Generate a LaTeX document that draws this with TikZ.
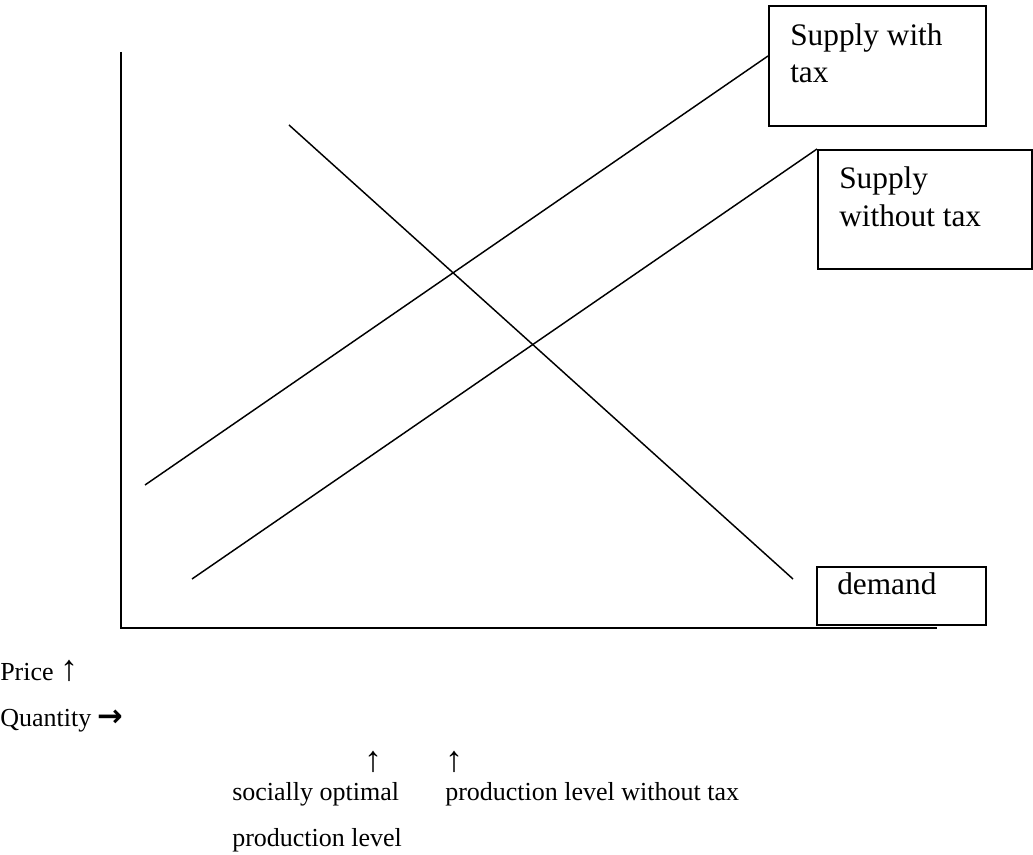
\documentclass[tikz,border=0pt]{standalone}
\usepackage{fontspec}
\setmainfont{Liberation Serif}
\newfontfamily\arrowfont{DejaVu Sans}
\newcommand{\uparr}{{\fontsize{27}{27}\selectfont\char"2191}}
\newcommand{\rightarr}{{\arrowfont\bfseries\fontsize{23}{23}\selectfont\char"2192}}
\begin{document}
\begin{tikzpicture}[x=0.75pt,y=-0.75pt,
  curve/.style={line width=1.1pt},
  axis/.style={line width=1.4pt},
  labelbox/.style={draw,line width=1.4pt,inner sep=0pt,anchor=north west},
  boxtext/.style={font=\fontsize{23.5}{28}\selectfont,anchor=base west,inner sep=0pt},
  notetext/.style={font=\fontsize{19.5}{22}\selectfont,anchor=base west,inner sep=0pt}]
\useasboundingbox (0,0) rectangle (1033,855);

% axes
\coordinate (ytop) at (121,52);
\coordinate (origin) at (121,628);
\coordinate (xend) at (937,628);
\draw[axis] (ytop) -- (origin) -- (xend);

% label boxes
\node[labelbox,minimum width=217*0.75pt,minimum height=120*0.75pt] (taxbox) at (768,5) {};
\node[labelbox,minimum width=214*0.75pt,minimum height=119*0.75pt] (notaxbox) at (817,149) {};
\node[labelbox,minimum width=169*0.75pt,minimum height=58*0.75pt] (demandbox) at (816,566) {};

\node[boxtext] (taxl1) at (790,46) {Supply with};
\node[boxtext] (taxl2) at (790,83) {tax};
\node[boxtext] (notaxl1) at (839,189) {Supply};
\node[boxtext] (notaxl2) at (839,227) {without tax};
\node[boxtext] (demandl) at (837,595) {demand};

% curves
\coordinate (s1a) at (145,485);
\coordinate (s1b) at (768,56);
\draw[curve] (s1a) -- (s1b);
\coordinate (s2a) at (192,579);
\draw[curve] (s2a) -- (notaxbox.north west);
\coordinate (da) at (289,125);
\coordinate (db) at (793,579);
\draw[curve] (da) -- (db);

% notes below the graph
\node[notetext] (price) at (0,681) {Price \uparr};
\node[notetext] (qty) at (0,726) {Quantity \rightarr};
\node[notetext,anchor=base] (arr1) at (373,772) {\uparr};
\node[notetext,anchor=base] (arr2) at (454,772) {\uparr};
\node[notetext] (soc1) at (232,801) {socially optimal};
\node[notetext] (soc2) at (232,846) {production level};
\node[notetext] (plev) at (445,801) {production level without tax};
\end{tikzpicture}
\end{document}
